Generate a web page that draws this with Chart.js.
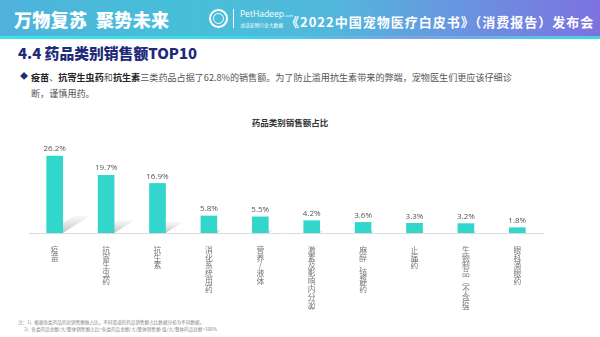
<!DOCTYPE html>
<html><head><meta charset="utf-8">
<script src="https://cdn.jsdelivr.net/npm/chart.js@4"></script>
<style>
html,body{margin:0;padding:0;width:600px;height:337px;overflow:hidden;background:#fff;font-family:"Noto Sans CJK SC","Noto Sans",sans-serif;}
#hdr{position:absolute;left:0;top:0;width:600px;height:36px;background:linear-gradient(90deg,#4fb2dc 0%,#47bfd9 30%,#52b8dc 55%,#6c8fe0 80%,#7c72df 100%);}
#hdrline{position:absolute;left:0;top:36px;width:600px;height:3px;background:linear-gradient(90deg,#3fe3e6,#39d8e8 40%,#7fa0e8 70%,#3fd8e6);}
.w{position:absolute;color:#fff;white-space:nowrap;}
#slogan{left:14px;top:6px;font-size:18px;font-weight:900;letter-spacing:0.3px;}
#logo{position:absolute;left:209px;top:9px;width:15px;height:15px;border:2px solid #fff;border-radius:50%;}
#logo2{position:absolute;left:213px;top:13px;width:9px;height:9px;border:1px solid #fff;border-radius:50%;}
#div{position:absolute;left:233px;top:9px;width:1px;height:19px;background:#fff;}
#ph{left:240px;top:8px;font-size:8.5px;font-family:"Open Sans",sans-serif;}
#ph2{left:240px;top:21px;font-size:4.8px;}
#conf{left:286px;top:12px;font-size:13px;font-weight:700;letter-spacing:1px;}
#title{position:absolute;left:18px;top:42px;font-size:14.8px;font-weight:900;color:#1f2a7a;white-space:nowrap;}
#bul{position:absolute;left:20px;top:70px;font-size:8px;color:#1f2a7a;}
#txt{position:absolute;left:31px;top:69px;width:488px;font-size:9.1px;line-height:16px;color:#555;}
#txt b{color:#222;}
#ctitle{position:absolute;left:0;width:580px;text-align:center;top:116px;font-size:8.5px;font-weight:700;color:#333;}
#foot{position:absolute;left:18px;top:319px;font-size:4.6px;line-height:7px;color:#888;white-space:nowrap;}
#cw{position:absolute;left:0;top:110px;width:600px;height:200px;}
</style></head><body>
<div id="hdr"></div><div id="hdrline"></div>
<div class="w" id="slogan">万物复苏&nbsp;&nbsp;聚势未来</div>
<div id="logo"></div><div id="logo2"></div><div id="div"></div>
<div class="w" id="ph">PetHadeep<span style="font-size:4px">.com</span></div>
<div class="w" id="ph2">派读宠物行业大数据</div>
<div class="w" id="conf">《2022中国宠物医疗白皮书》（消费报告）发布会</div>
<div id="title">4.4 药品类别销售额TOP10</div>
<div id="bul">◆</div>
<div id="txt"><b>疫苗</b>、<b>抗寄生虫药</b>和<b>抗生素</b>三类药品占据了62.8%的销售额。为了防止滥用抗生素带来的弊端，宠物医生们更应该仔细诊断，谨慎用药。</div>
<div id="ctitle">药品类别销售额占比</div>
<div id="cw"><canvas id="c" width="600" height="200"></canvas></div>
<div id="foot">注：1）根据各类药品的总销售额做占比，不同渠道的药品销售额占比数据分析为不同数据。<br>&nbsp;&nbsp;&nbsp;&nbsp;&nbsp;&nbsp;2）各类药品金额/大/整体销售额占比=各类药品金额/大/整体销售额-值/大/整体药品总额=100%</div>
<script>
const categories = ["疫苗","抗寄生虫药","抗生素","消化系统用药","营养/液体","激素及影响内分泌药","麻醉、镇静药","止痛药","生物制品︵不含疫苗︶","眼科滴眼药"];
const shares = [26.2,19.7,16.9,5.8,5.5,4.2,3.6,3.3,3.2,1.8];
const tickLabels = categories.map(s => Array.from(s));

const shadowPlugin = {
  id:'shadow',
  beforeDatasetsDraw(chart){
    const ctx = chart.ctx;
    chart.getDatasetMeta(0).data.forEach(b=>{
      const h = (b.base - b.y)*0.22, sh = h*1.6, w = b.width;
      const g = ctx.createLinearGradient(0,b.base,0,b.base-h);
      g.addColorStop(0,'rgba(150,150,150,0.6)');
      g.addColorStop(1,'rgba(200,200,200,0.15)');
      ctx.save();ctx.fillStyle=g;ctx.beginPath();
      ctx.moveTo(b.x-w/2,b.base);ctx.lineTo(b.x+w/2,b.base);
      ctx.lineTo(b.x+w/2+sh,b.base-h);ctx.lineTo(b.x-w/2+sh,b.base-h);
      ctx.closePath();ctx.fill();ctx.restore();
    });
  }
};
const valuePlugin = {
  id:'vals',
  afterDatasetsDraw(chart){
    const ctx = chart.ctx;
    ctx.save();
    ctx.font = '8px "Open Sans","Noto Sans",sans-serif';
    ctx.fillStyle = '#555';ctx.textAlign='center';ctx.textBaseline='bottom';
    chart.getDatasetMeta(0).data.forEach((b,i)=>{
      ctx.fillText(shares[i].toFixed(1)+'%', b.x, b.y-3);
    });
    ctx.restore();
  }
};
new Chart(document.getElementById('c'),{
  type:'bar',
  data:{labels:tickLabels,datasets:[{data:shares,backgroundColor:'#33d6cb',barThickness:16}]},
  options:{
    responsive:false,animation:false,
    layout:{padding:{left:29,right:57,top:35,bottom:0}},
    plugins:{legend:{display:false},tooltip:{enabled:false}},
    scales:{
      x:{grid:{display:false},border:{display:true,color:'#dcdcdc',width:1},
         ticks:{autoSkip:false,maxRotation:0,minRotation:0,padding:5,color:'#777',
                font:{family:'"Noto Sans CJK SC"',size:7.8,lineHeight:1.0}},
         afterFit(s){s.height=77;}},
      y:{display:false,min:0,max:30}
    }
  },
  plugins:[shadowPlugin,valuePlugin]
});
</script>
</body></html>
